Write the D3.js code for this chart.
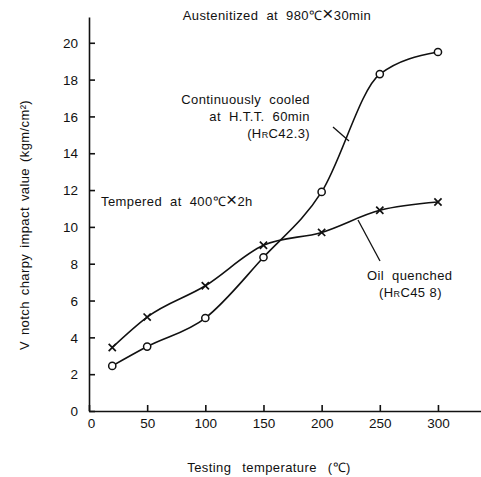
<!DOCTYPE html>
<html>
<head>
<meta charset="utf-8">
<script src="https://cdn.jsdelivr.net/npm/d3@7"></script>
<style>
  html, body { margin: 0; padding: 0; background: #fff; }
  svg { display: block; font-family: "Liberation Sans", Arial, sans-serif; }
  .axis text { font-size: 13.5px; fill: #111; }
  .axis line, .axis path { stroke: #111; stroke-width: 1.6; }
  .note { font-size: 13px; fill: #111; letter-spacing: 0.4px; word-spacing: 4px; }
</style>
</head>
<body>
<svg id="chart" width="481" height="477"></svg>
<script>
// Testing temperatures (°C)
const temperatures = [20, 50, 100, 150, 200, 250, 300];
// V-notch Charpy impact values (kgm/cm²)
const continuouslyCooled = [2.45, 3.5, 5.05, 8.35, 11.9, 18.3, 19.5];
const oilQuenched = [3.45, 5.1, 6.8, 9.0, 9.7, 10.9, 11.35];
// Axis ticks
const xTicks = [0, 50, 100, 150, 200, 250, 300];
const yTicks = [0, 2, 4, 6, 8, 10, 12, 14, 16, 18, 20];

const svg = d3.select("#chart");

const x = d3.scaleLinear().domain([0, 337]).range([89, 481]);
const y = d3.scaleLinear().domain([0, 21.4]).range([411, 17]);

// Axes: ticks point into the plot
const xAxis = svg.append("g")
  .attr("class", "axis")
  .attr("transform", `translate(0,${y(0)})`)
  .call(d3.axisBottom(x).tickValues(xTicks).tickSize(-6).tickSizeOuter(0).tickPadding(5));
xAxis.selectAll("text").attr("dy", "0.9em");

const yAxis = svg.append("g")
  .attr("class", "axis")
  .attr("transform", `translate(${x(0)},0)`)
  .call(d3.axisLeft(y).tickValues(yTicks).tickSize(-6).tickSizeOuter(0).tickPadding(11));
yAxis.selectAll("text").attr("dy", "0.35em");
xAxis.selectAll(".tick").filter(d => d === 0).select("text").attr("dx", 2);

const line = d3.line()
  .x((d, i) => x(temperatures[i]))
  .y(d => y(d))
  .curve(d3.curveMonotoneX);

svg.append("path")
  .datum(continuouslyCooled)
  .attr("d", line)
  .attr("fill", "none")
  .attr("stroke", "#111")
  .attr("stroke-width", 1.6);

svg.append("path")
  .datum(oilQuenched)
  .attr("d", line)
  .attr("fill", "none")
  .attr("stroke", "#111")
  .attr("stroke-width", 1.6);

// Open circle markers
svg.selectAll("circle.cc")
  .data(continuouslyCooled)
  .join("circle")
  .attr("class", "cc")
  .attr("cx", (d, i) => x(temperatures[i]))
  .attr("cy", d => y(d))
  .attr("r", 3.6)
  .attr("fill", "#fff")
  .attr("stroke", "#111")
  .attr("stroke-width", 1.5);

// Cross markers
const s = 3.6;
svg.selectAll("path.oq")
  .data(oilQuenched)
  .join("path")
  .attr("class", "oq")
  .attr("transform", (d, i) => `translate(${x(temperatures[i])},${y(d)})`)
  .attr("d", `M${-s},${-s}L${s},${s}M${-s},${s}L${s},${-s}`)
  .attr("stroke", "#111")
  .attr("stroke-width", 1.7)
  .attr("fill", "none");

// Annotations; parts are [text, fontSize] pairs so the "×" and the
// subscript-like "R" of HRC can be sized separately
const note = (tx, ty, parts, anchor) => {
  const t = svg.append("text").attr("class", "note").attr("x", tx).attr("y", ty)
    .attr("text-anchor", anchor || "start");
  parts.forEach(([str, size]) => {
    const sp = t.append("tspan").text(str);
    if (size) sp.attr("font-size", size + "px");
  });
  return t;
};

note(277, 20, [["Austenitized at 980℃"], ["×", 19], ["30min"]], "middle");
note(310, 104, [["Continuously cooled"]], "end");
note(310, 121, [["at H.T.T. 60min"]], "end");
note(310, 138, [["(H"], ["R", 9], ["C42.3)"]], "end");

note(101, 206, [["Tempered at 400℃"], ["×", 19], ["2h"]]);
note(367, 280, [["Oil quenched"]]);
note(379, 297, [["(H"], ["R", 9], ["C45 8)"]]).style("word-spacing", "0px");

// Leader lines
svg.append("line").attr("x1", 333).attr("y1", 127).attr("x2", 349).attr("y2", 141)
  .attr("stroke", "#111").attr("stroke-width", 1.3);
svg.append("line").attr("x1", 358).attr("y1", 220).attr("x2", 380).attr("y2", 261)
  .attr("stroke", "#111").attr("stroke-width", 1.3);

// Axis titles
svg.append("text").attr("class", "note")
  .attr("transform", "translate(29,225) rotate(-90)")
  .attr("text-anchor", "middle")
  .style("word-spacing", "2px")
  .text("V notch charpy impact value (kgm/cm²)");
svg.append("text").attr("class", "note")
  .attr("x", 269).attr("y", 472)
  .attr("text-anchor", "middle")
  .style("word-spacing", "7px")
  .text("Testing temperature (℃)");
</script>
</body>
</html>
